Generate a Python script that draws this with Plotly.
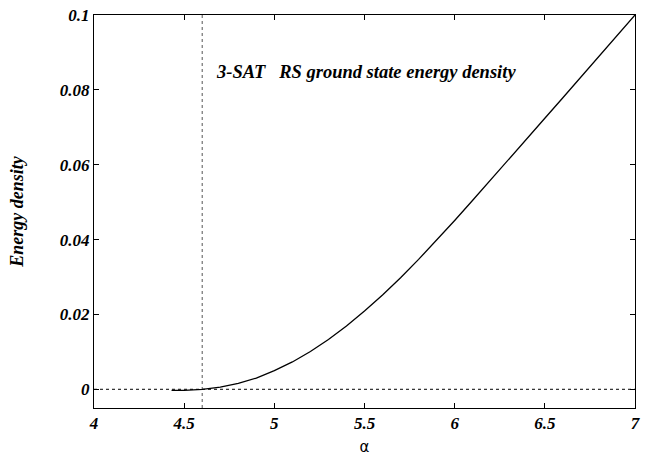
import plotly.graph_objects as go

alpha = [4.43, 4.5, 4.6, 4.7, 4.8, 4.9, 5.0, 5.1, 5.2, 5.3, 5.4, 5.5, 5.6, 5.7,
         5.8, 5.9, 6.0, 6.1, 6.2, 6.3, 6.4, 6.5, 6.6, 6.7, 6.8, 6.9, 7.0]
energy = [-0.0003, -0.0003, 0.0, 0.0006, 0.0016, 0.0030, 0.0050, 0.0073, 0.0101,
          0.0133, 0.0169, 0.0209, 0.0252, 0.0298, 0.0347, 0.0398, 0.0451, 0.0505,
          0.0559, 0.0614, 0.0669, 0.0724, 0.0779, 0.0834, 0.0889, 0.0944, 0.1000]

zero_x = [4, 7]
zero_y = [0, 0]
alpha_c = 4.6
vline_y = [-0.005, 0.1]

x_ticks = [4, 4.5, 5, 5.5, 6, 6.5, 7]
x_labels = ["4", "4.5", "5", "5.5", "6", "6.5", "7"]
y_ticks = [0, 0.02, 0.04, 0.06, 0.08, 0.1]
y_labels = ["0", "0.02", "0.04", "0.06", "0.08", "0.1"]

serif = "Liberation Serif"
L, R, T, B = 94, 641, 14, 408

fig = go.Figure()
fig.add_trace(go.Scatter(x=zero_x, y=zero_y, mode="lines",
                         line=dict(color="black", width=1, dash="dot"), showlegend=False))
fig.add_trace(go.Scatter(x=[alpha_c, alpha_c], y=vline_y, mode="lines",
                         line=dict(color="#555555", width=1, dash="dot"), showlegend=False))
fig.add_trace(go.Scatter(x=alpha, y=energy, mode="lines",
                         line=dict(color="black", width=1.3), showlegend=False))

fig.add_annotation(x=(215 - L) / (R - L), y=(B - 71) / (B - T), xref="paper", yref="paper",
                   text="3-SAT   RS ground state energy density",
                   showarrow=False, xanchor="left", yanchor="middle",
                   font=dict(family=serif, size=18.5, color="black", weight="bold", style="italic"))

axis_common = dict(showline=True, linecolor="black", linewidth=1, mirror="ticks",
                   ticks="inside", ticklen=5, tickcolor="black", tickwidth=1,
                   showgrid=False, zeroline=False,
                   tickfont=dict(family=serif, size=17, color="black", weight="bold", style="italic"))

fig.update_layout(
    width=647, height=464,
    margin=dict(l=L, r=647 - R, t=T, b=464 - B),
    plot_bgcolor="white", paper_bgcolor="white",
    xaxis=dict(range=[4, 7], tickvals=x_ticks, ticktext=x_labels,
               title=dict(text="α", font=dict(family="DejaVu Sans", size=15, color="black"), standoff=9),
               **axis_common),
    yaxis=dict(range=[-0.005, 0.1], tickvals=y_ticks, ticktext=y_labels,
               title=dict(text="Energy density", font=dict(family=serif, size=18, color="black",
                                                          weight="bold", style="italic"), standoff=31),
               **axis_common),
)
fig.write_html("out.html", config={"displayModeBar": False},
               post_script="document.body.style.margin='0';document.body.style.overflow='hidden';")
